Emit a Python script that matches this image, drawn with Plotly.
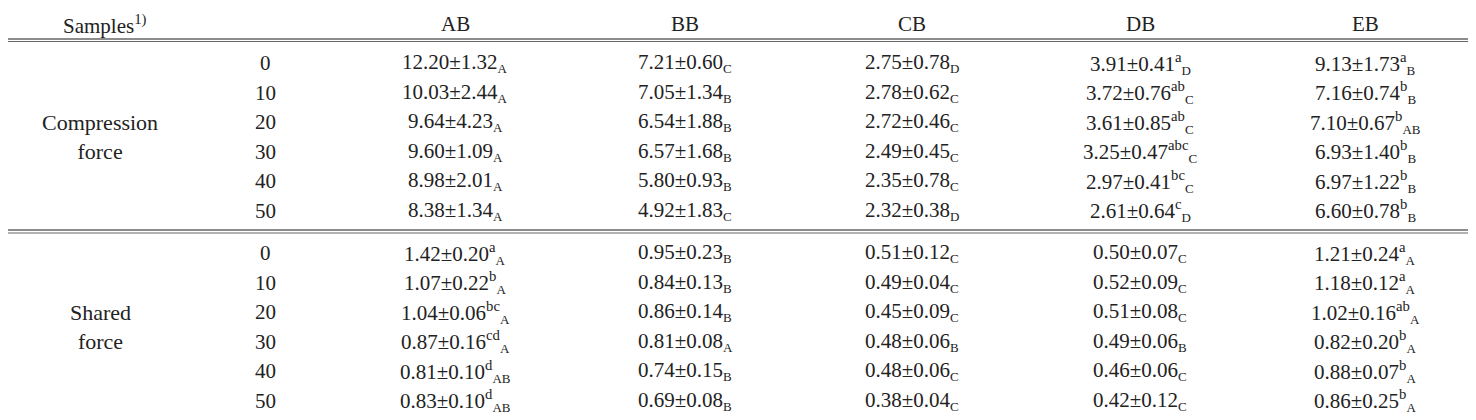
import plotly.graph_objects as go

columns = ["AB", "BB", "CB", "DB", "EB"]
doses = ["0", "10", "20", "30", "40", "50"]

# each cell: value, superscript letter, subscript letter
comp_AB = [("12.20±1.32", "", "A"), ("10.03±2.44", "", "A"), ("9.64±4.23", "", "A"),
           ("9.60±1.09", "", "A"), ("8.98±2.01", "", "A"), ("8.38±1.34", "", "A")]
comp_BB = [("7.21±0.60", "", "C"), ("7.05±1.34", "", "B"), ("6.54±1.88", "", "B"),
           ("6.57±1.68", "", "B"), ("5.80±0.93", "", "B"), ("4.92±1.83", "", "C")]
comp_CB = [("2.75±0.78", "", "D"), ("2.78±0.62", "", "C"), ("2.72±0.46", "", "C"),
           ("2.49±0.45", "", "C"), ("2.35±0.78", "", "C"), ("2.32±0.38", "", "D")]
comp_DB = [("3.91±0.41", "a", "D"), ("3.72±0.76", "ab", "C"), ("3.61±0.85", "ab", "C"),
           ("3.25±0.47", "abc", "C"), ("2.97±0.41", "bc", "C"), ("2.61±0.64", "c", "D")]
comp_EB = [("9.13±1.73", "a", "B"), ("7.16±0.74", "b", "B"), ("7.10±0.67", "b", "AB"),
           ("6.93±1.40", "b", "B"), ("6.97±1.22", "b", "B"), ("6.60±0.78", "b", "B")]

shear_AB = [("1.42±0.20", "a", "A"), ("1.07±0.22", "b", "A"), ("1.04±0.06", "bc", "A"),
            ("0.87±0.16", "cd", "A"), ("0.81±0.10", "d", "AB"), ("0.83±0.10", "d", "AB")]
shear_BB = [("0.95±0.23", "", "B"), ("0.84±0.13", "", "B"), ("0.86±0.14", "", "B"),
            ("0.81±0.08", "", "A"), ("0.74±0.15", "", "B"), ("0.69±0.08", "", "B")]
shear_CB = [("0.51±0.12", "", "C"), ("0.49±0.04", "", "C"), ("0.45±0.09", "", "C"),
            ("0.48±0.06", "", "B"), ("0.48±0.06", "", "C"), ("0.38±0.04", "", "C")]
shear_DB = [("0.50±0.07", "", "C"), ("0.52±0.09", "", "C"), ("0.51±0.08", "", "C"),
            ("0.49±0.06", "", "B"), ("0.46±0.06", "", "C"), ("0.42±0.12", "", "C")]
shear_EB = [("1.21±0.24", "a", "A"), ("1.18±0.12", "a", "A"), ("1.02±0.16", "ab", "A"),
            ("0.82±0.20", "b", "A"), ("0.88±0.07", "b", "A"), ("0.86±0.25", "b", "A")]

groups = [("Compression<br>force", [comp_AB, comp_BB, comp_CB, comp_DB, comp_EB]),
          ("Shared<br>force", [shear_AB, shear_BB, shear_CB, shear_DB, shear_EB])]

FONT = dict(family="Liberation Serif, DejaVu Serif, serif", size=21, color="#222")
col_x = [455, 685, 912, 1140, 1365]
dose_x = 265
row_h = 29.5
block_top = [63, 253]

fig = go.Figure()
anns = []
anns.append(dict(x=105, y=24, text="Samples<sup>1)</sup>"))
for c, cx in zip(columns, col_x):
    anns.append(dict(x=cx, y=24, text=c))

for (label, cols), y0 in zip(groups, block_top):
    anns.append(dict(x=100, y=y0 + 2.5 * row_h, text=label, font=dict(FONT, size=22)))
    for i, d in enumerate(doses):
        y = y0 + i * row_h
        anns.append(dict(x=dose_x, y=y, text=d))
        for cx, col in zip(col_x, cols):
            v, sup, sub = col[i]
            t = (v + (f"<sup>{sup}</sup>" if sup else "")
                 + f"<sub><span style='font-size:13px'>{sub}</span></sub>")
            anns.append(dict(x=cx, y=y, text=t))

for a in anns:
    a.setdefault("font", FONT)
    a.update(xref="x", yref="y", showarrow=False, xanchor="center", yanchor="middle")
fig.update_layout(annotations=anns)

lines = [(2, 2.5), (5.5, 1), (39, 1.5), (41.5, 1), (230, 1.5), (233, 1), (417, 1.5)]
for y, w in lines:
    fig.add_shape(type="line", x0=8, x1=1476, y0=y, y1=y, xref="x", yref="y",
                  line=dict(color="#666", width=w))

# page body has an 8px margin: map axis units straight onto page pixels
fig.update_xaxes(range=[8, 1468], visible=False, fixedrange=True)
fig.update_yaxes(range=[412, 8], visible=False, fixedrange=True)
fig.update_layout(width=1460, height=404, margin=dict(l=0, r=0, t=0, b=0),
                  plot_bgcolor="white", paper_bgcolor="white", showlegend=False)
fig.write_html("out.html")
